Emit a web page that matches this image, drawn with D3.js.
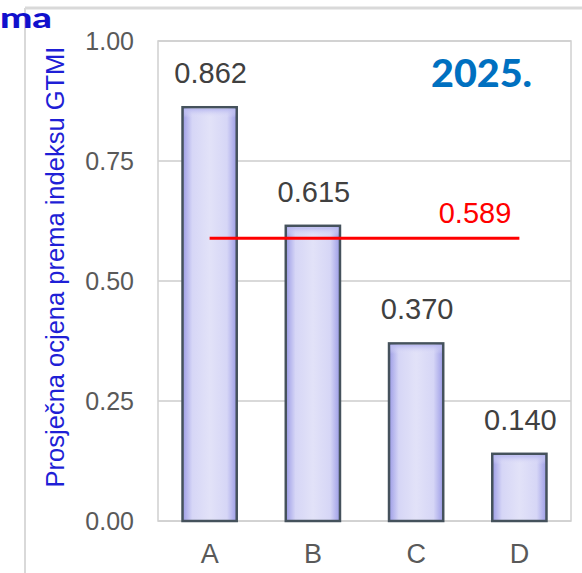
<!DOCTYPE html>
<html>
<head>
<meta charset="utf-8">
<script src="https://cdn.jsdelivr.net/npm/d3@7"></script>
<style>
  body { margin: 0; background: #fff; }
  svg { display: block; font-family: "Liberation Sans", Arial, sans-serif; }
</style>
</head>
<body>
<svg id="chart"></svg>
<script>
const categories = ['A', 'B', 'C', 'D'];
const scores = [0.862, 0.615, 0.370, 0.140];
const average = 0.589;
const yTicks = [0, 0.25, 0.5, 0.75, 1.0];
const yearLabel = '2025.';
const yTitle = 'Prosječna ocjena prema indeksu GTMI';

const w = 582, h = 573;
let svg = d3.select('#chart').attr('width', w).attr('height', h);

let plot = {left: 158, right: 571, top: 41, bottom: 521};

let xScale = d3.scaleBand().domain(categories)
    .range([plot.left, plot.right])
    .paddingInner(0.475).paddingOuter(0.2375);
let yScale = d3.scaleLinear().domain([0, 1]).range([plot.bottom, plot.top]);

// bar gradients
let defs = svg.append('defs');
let gx = defs.append('linearGradient').attr('id', 'barH')
    .attr('x1', 0).attr('x2', 1).attr('y1', 0).attr('y2', 0);
[[0, '#9c9ce6'], [0.18, '#d6d6f6'], [0.5, '#e2e2f8'], [0.82, '#d6d6f6'], [1, '#9c9ce6']]
  .forEach(s => gx.append('stop').attr('offset', s[0]).attr('stop-color', s[1]));
let gy = defs.append('linearGradient').attr('id', 'barTop')
    .attr('x1', 0).attr('x2', 0).attr('y1', 0).attr('y2', 1);
[[0, '#b8b8f0', 1], [1, '#e2e2f8', 0]]
  .forEach(s => gy.append('stop').attr('offset', s[0]).attr('stop-color', s[1]).attr('stop-opacity', s[2]));

// outer frame
svg.append('line').attr('x1', 25).attr('x2', w).attr('y1', 8).attr('y2', 8)
    .attr('stroke', '#d9d9d9').attr('stroke-width', 3);
svg.append('line').attr('x1', 25).attr('x2', 25).attr('y1', 8).attr('y2', h)
    .attr('stroke', '#d9d9d9').attr('stroke-width', 2);

// gridlines
svg.append('g').selectAll('line').data(yTicks).join('line')
    .attr('x1', plot.left).attr('x2', plot.right)
    .attr('y1', d => yScale(d)).attr('y2', d => yScale(d))
    .attr('stroke', '#d9d9d9').attr('stroke-width', 2);

svg.append('rect')
    .attr('x', plot.left).attr('y', plot.top)
    .attr('width', plot.right - plot.left).attr('height', plot.bottom - plot.top)
    .attr('fill', 'none').attr('stroke', '#d0d0d0').attr('stroke-width', 1.5);

// y axis
let yAxis = d3.axisLeft(yScale).tickValues(yTicks).tickFormat(d3.format('.2f')).tickSize(0).tickPadding(0);
let yg = svg.append('g').attr('transform', 'translate(134,0)').call(yAxis);
yg.select('.domain').remove();
yg.selectAll('text').attr('font-size', 25).attr('fill', '#595959')
    .attr('font-family', '"Liberation Sans", Arial, sans-serif');

// x axis
let xAxis = d3.axisBottom(xScale).tickSize(0).tickPadding(0);
let xg = svg.append('g').attr('transform', `translate(0,${plot.bottom + 23})`).call(xAxis);
xg.select('.domain').remove();
xg.selectAll('text').attr('font-size', 27).attr('fill', '#595959')
    .attr('font-family', '"Liberation Sans", Arial, sans-serif');

// bars
let bars = svg.append('g');
bars.selectAll('rect.bar').data(scores).join('rect')
    .attr('class', 'bar')
    .attr('x', (d, i) => xScale(categories[i]))
    .attr('y', d => yScale(d))
    .attr('width', xScale.bandwidth())
    .attr('height', d => yScale(0) - yScale(d))
    .attr('fill', 'url(#barH)')
    .attr('stroke', '#45525c').attr('stroke-width', 2.5);
bars.selectAll('rect.bevel').data(scores).join('rect')
    .attr('class', 'bevel')
    .attr('x', (d, i) => xScale(categories[i]) + 1.5)
    .attr('y', d => yScale(d) + 1.5)
    .attr('width', xScale.bandwidth() - 3)
    .attr('height', 9)
    .attr('fill', 'url(#barTop)');

// value labels
svg.append('g').selectAll('text').data(scores).join('text')
    .attr('x', (d, i) => xScale(categories[i]) + xScale.bandwidth() / 2 + 1)
    .attr('y', d => yScale(d) - 24)
    .attr('text-anchor', 'middle')
    .attr('font-size', 29).attr('fill', '#404040')
    .text(d => d3.format('.3f')(d));

// average line
svg.append('line')
    .attr('x1', xScale('A') + xScale.bandwidth() / 2)
    .attr('x2', xScale('D') + xScale.bandwidth() / 2)
    .attr('y1', yScale(average)).attr('y2', yScale(average))
    .attr('stroke', '#ff0000').attr('stroke-width', 3);
svg.append('text')
    .attr('x', 475).attr('y', yScale(average) - 15)
    .attr('text-anchor', 'middle')
    .attr('font-size', 29).attr('fill', '#ff0000')
    .text(d3.format('.3f')(average));

// year
svg.append('text')
    .attr('x', 431).attr('y', 87)
    .attr('font-family', 'Lato, "Open Sans", sans-serif')
    .attr('font-weight', 900)
    .attr('font-size', 37).attr('fill', '#0070c0')
    .attr('textLength', 101).attr('lengthAdjust', 'spacingAndGlyphs')
    .text(yearLabel);

// cut-off title fragment
svg.append('text')
    .attr('x', 0).attr('y', 28)
    .attr('font-family', 'Lato, "Open Sans", sans-serif')
    .attr('font-weight', 900)
    .attr('font-size', 29).attr('fill', '#1010cc')
    .attr('textLength', 52).attr('lengthAdjust', 'spacingAndGlyphs')
    .text('ma');

// y title
svg.append('text')
    .attr('transform', 'translate(64,267) rotate(-90)')
    .attr('text-anchor', 'middle')
    .attr('font-size', 25.5).attr('fill', '#1f1fd6')
    .text(yTitle);
</script>
</body>
</html>
